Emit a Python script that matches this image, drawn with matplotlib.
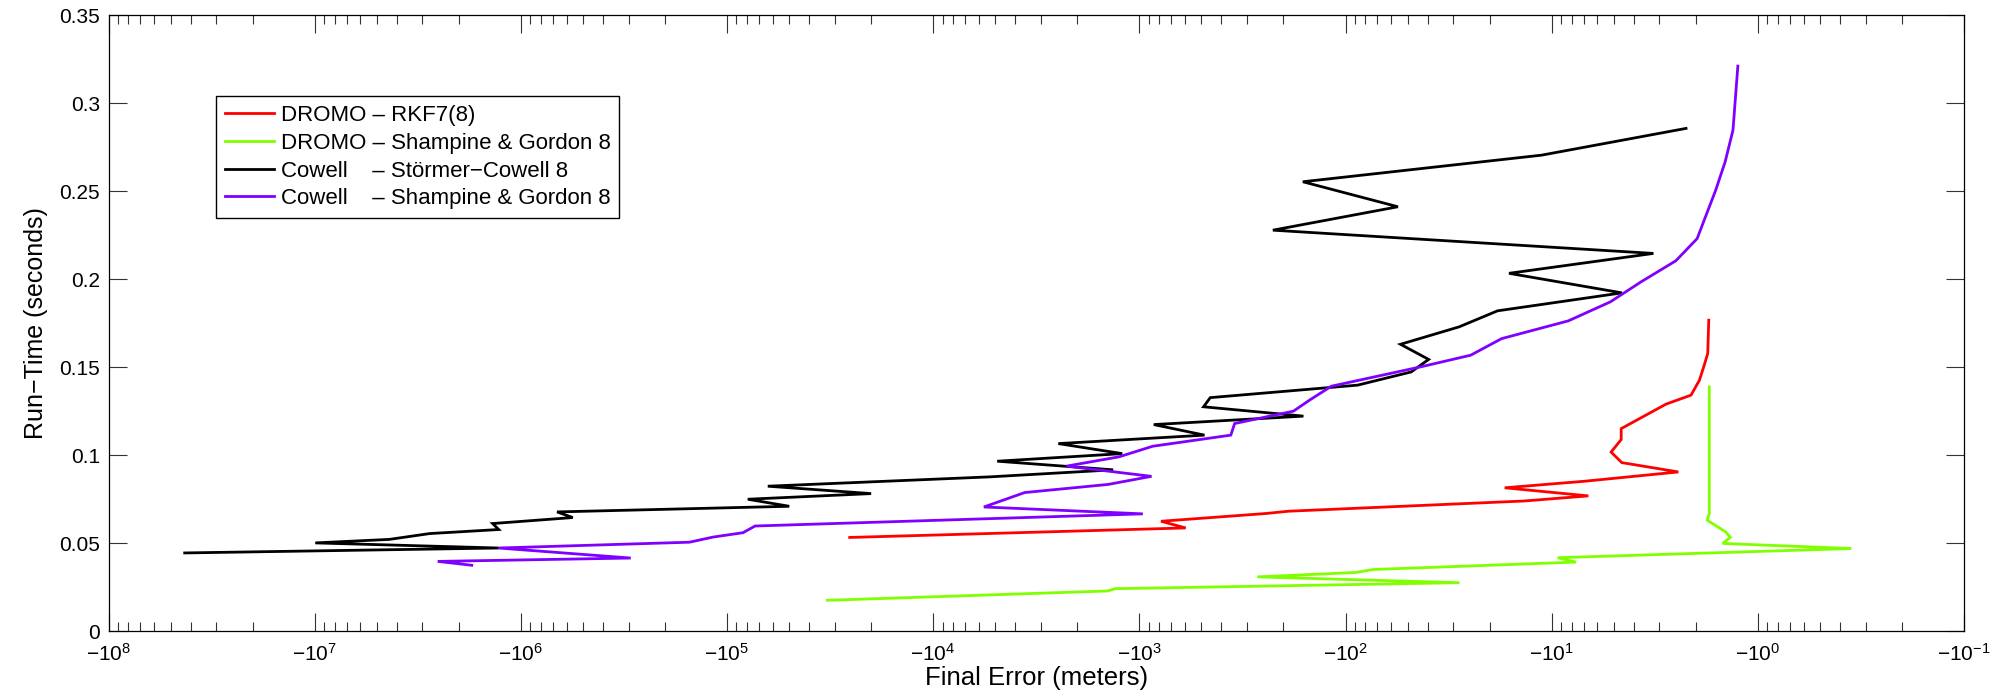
import matplotlib
matplotlib.use("Agg")
import matplotlib.pyplot as plt
import numpy as np
from matplotlib.ticker import FixedLocator, FuncFormatter, LogLocator, NullFormatter

plt.rcParams["font.family"] = ["Liberation Sans", "DejaVu Sans"]
plt.rcParams["mathtext.fontset"] = "custom"
plt.rcParams["mathtext.rm"] = "Liberation Sans"
plt.rcParams["mathtext.default"] = "rm"

# final error (meters, negative) and run-time (seconds) per propagator
dromo_rkf_err = [-2.54e4, -596, -785, -243, -189, -13.6, -6.64, -16.9, -6.95, -2.43,
                 -4.57, -5.15, -4.60, -4.60, -2.79, -2.11, -1.92, -1.82, -1.75, -1.73]
dromo_rkf_time = [0.0533, 0.0587, 0.0625, 0.0669, 0.0682, 0.0740, 0.0769, 0.0815, 0.0852, 0.0905,
                  0.0958, 0.1018, 0.1089, 0.1151, 0.1290, 0.1341, 0.1426, 0.1511, 0.1578, 0.1767]

dromo_sg_err = [-3.26e4, -1426, -1312, -28.0, -268, -89.3, -73.3, -7.62, -9.35, -0.352,
                -1.48, -1.36, -1.43, -1.76, -1.72, -1.72]
dromo_sg_time = [0.0176, 0.0229, 0.0242, 0.0276, 0.0309, 0.0334, 0.0351, 0.0393, 0.0418, 0.0470,
                 0.0499, 0.0534, 0.0564, 0.0631, 0.0669, 0.1388]

cowell_sc_err = [-4.27e7, -1.28e6, -9.93e6, -4.34e6, -2.77e6, -1.28e6, -1.37e6, -5.60e5, -6.67e5,
                 -4.99e4, -7.93e4, -2.00e4, -6.34e4, -5.32e3, -1.34e3, -4.89e3, -1.21e3, -2.47e3,
                 -483, -851, -160, -488, -453, -87.3, -48.0, -39.5, -54.1, -28.1, -18.3, -4.56,
                 -16.1, -3.21, -225, -55.7, -161, -11.2, -2.23]
cowell_sc_time = [0.0445, 0.0473, 0.0502, 0.0522, 0.0555, 0.0578, 0.0612, 0.0646, 0.0678,
                  0.0710, 0.0750, 0.0782, 0.0824, 0.0877, 0.0917, 0.0966, 0.1009, 0.1066,
                  0.1114, 0.1174, 0.1222, 0.1275, 0.1327, 0.1398, 0.1473, 0.1544, 0.1630, 0.1729, 0.1820, 0.1922,
                  0.2033, 0.2146, 0.2278, 0.2411, 0.2553, 0.2704, 0.2856]

cowell_sg_err = [-1.73e6, -2.53e6, -2.93e5, -1.28e6, -1.52e5, -1.17e5, -8.36e4, -7.31e4, -962,
                 -5675, -3597, -1419, -873, -2254, -1253, -861, -360, -345, -179, -148, -117,
                 -43.1, -24.7, -17.5, -8.30, -5.19, -3.68, -2.50, -1.97, -1.60, -1.44, -1.32, -1.25]
cowell_sg_time = [0.0375, 0.0397, 0.0416, 0.0473, 0.0506, 0.0535, 0.0560, 0.0598, 0.0667,
                  0.0706, 0.0788, 0.0834, 0.0880, 0.0938, 0.0991, 0.1051, 0.1114, 0.1180, 0.1250, 0.1316, 0.1392,
                  0.1502, 0.1568, 0.1662, 0.1763, 0.1871, 0.1985, 0.2104, 0.2230, 0.2506, 0.2667, 0.2846, 0.3210]

series = [
    ("DROMO – RKF7(8)", dromo_rkf_err, dromo_rkf_time, "#ff0000"),
    ("DROMO – Shampine & Gordon 8", dromo_sg_err, dromo_sg_time, "#80ff00"),
    ("Cowell    – Störmer−Cowell 8", cowell_sc_err, cowell_sc_time, "#000000"),
    ("Cowell    – Shampine & Gordon 8", cowell_sg_err, cowell_sg_time, "#7f00ff"),
]

y_ticks = [0, 0.05, 0.1, 0.15, 0.2, 0.25, 0.3, 0.35]
x_decades = list(range(8, -2, -1))

fig = plt.figure(figsize=(19.94, 6.94), dpi=100)
ax = fig.add_axes([108.5 / 1994, (694 - 631.3) / 694, 1855.5 / 1994, 616.3 / 694])

for label, err, t, color in series:
    ax.plot(np.abs(err), t, color=color, lw=2.0, label=label, solid_joinstyle="miter")

# log axis on |error|, reversed so it reads -1e8 ... -1e-1 left to right
ax.set_xscale("log")
ax.set_xlim(1e8, 1e-1)
ax.set_ylim(0, 0.35)

ax.xaxis.set_major_locator(FixedLocator([10.0 ** k for k in x_decades]))
ax.xaxis.set_major_formatter(FuncFormatter(lambda v, p: r"$-10^{%d}$" % round(np.log10(v))))
ax.xaxis.set_minor_locator(LogLocator(base=10, subs=np.arange(2, 10), numticks=30))
ax.xaxis.set_minor_formatter(NullFormatter())
ax.set_yticks(y_ticks)
ax.set_yticklabels(["%g" % v for v in y_ticks])

ax.tick_params(which="both", direction="in", top=True, right=True, width=0.8, color="#333333")
ax.tick_params(which="major", length=13, labelsize=15)
ax.tick_params(axis="x", which="major", pad=8)
ax.tick_params(axis="y", which="major", pad=6)
ax.tick_params(which="minor", length=6.5)
for s in ax.spines.values():
    s.set_linewidth(0.9)

ax.set_xlabel("Final Error (meters)", fontsize=18.5, labelpad=1)
ax.set_ylabel("Run−Time (seconds)", fontsize=18, labelpad=8)

leg = ax.legend(loc="upper left", bbox_to_anchor=(0.058, 0.868), borderaxespad=0,
                fontsize=16, handlelength=2.2, handletextpad=0.3, borderpad=0.4,
                labelspacing=0.3, fancybox=False, edgecolor="black", framealpha=1)
leg.get_frame().set_linewidth(1.0)

fig.savefig("out.png", dpi=100)
plt.close(fig)
